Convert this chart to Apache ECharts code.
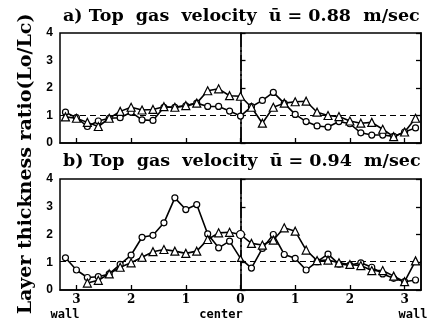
<!DOCTYPE html>
<html><head><meta charset="utf-8">
<script src="https://cdn.jsdelivr.net/npm/echarts@6/dist/echarts.min.js"></script>
<style>html,body{margin:0;padding:0;background:#fff}#c{width:431px;height:320px}</style>
</head><body><div id="c"></div>
<script>
// radial position (dimensionless), from wall (-) through center (0) to wall (+)
const positions = [-3.2,-3.0,-2.8,-2.6,-2.4,-2.2,-2.0,-1.8,-1.6,-1.4,-1.2,-1.0,-0.8,-0.6,-0.4,-0.2,0,0.2,0.4,0.6,0.8,1.0,1.2,1.4,1.6,1.8,2.0,2.2,2.4,2.6,2.8,3.0,3.2];
const xTickValues = [-3,-2,-1,0,1,2,3];
const yTickValues = [0,1,2,3,4];
// a) u = 0.88 m/sec
const aCircle = [1.12,0.92,0.6,0.8,0.9,0.92,1.12,0.84,0.82,1.3,1.3,1.35,1.45,1.33,1.33,1.16,0.98,1.32,1.55,1.84,1.44,1.04,0.78,0.62,0.58,0.78,0.7,0.37,0.29,0.29,0.24,0.4,0.55];
const aTriangle = [0.95,0.9,0.75,0.6,0.9,1.15,1.3,1.2,1.22,1.32,1.3,1.36,1.45,1.9,1.97,1.72,1.7,1.3,0.72,1.3,1.45,1.5,1.52,1.12,1.0,0.96,0.8,0.72,0.75,0.5,0.23,0.4,0.9];
// b) u = 0.94 m/sec
const bCircle = [1.16,0.72,0.45,0.48,0.58,0.92,1.26,1.9,1.97,2.42,3.32,2.9,3.08,2.02,1.52,1.76,1.14,0.79,1.5,2.0,1.28,1.14,0.72,1.02,1.29,0.93,0.9,0.98,0.82,0.58,0.42,0.3,0.36];
const bTriangle = [null,null,0.25,0.35,0.58,0.82,0.98,1.18,1.38,1.46,1.4,1.32,1.4,1.82,2.06,2.08,2.0,1.68,1.62,1.8,2.24,2.12,1.44,1.06,1.08,0.98,0.92,0.88,0.7,0.7,0.5,0.3,1.05];
const refA = 1.0, refB = 1.05;
const titleA = 'a) Top  gas  velocity  ū = 0.88  m/sec';
const titleB = 'b) Top  gas  velocity  ū = 0.94  m/sec';
const yName = 'Layer thickness ratio(Lo/Lc)';
const wallLabel = 'wall', centerLabel = 'center';

const chart = echarts.init(document.getElementById('c'), null, {renderer:'canvas'});
const serif = 'DejaVu Serif';
function pts(ys, swapIdx, swapSym){
  const out = [];
  ys.forEach((y,i)=>{ if(y==null) return; const d={value:[positions[i],y]}; if(i===swapIdx) d.symbol=swapSym; out.push(d); });
  return out;
}
function line(ys, sym, gi, refY, swapIdx, swapSym, withMarks){
  const s = {
    type:'line', xAxisIndex:gi, yAxisIndex:gi*2, data:pts(ys, swapIdx, swapSym),
    symbol:sym, symbolSize: sym==='triangle'?8:6,
    lineStyle:{color:'#000', width:1.6},
    itemStyle:{color:'#fff', borderColor:'#000', borderWidth:1.2},
    z:5, animation:false, silent:true
  };
  if(withMarks){
    s.markLine = {silent:true, symbol:'none', label:{show:false}, animation:false,
      data:[
        {yAxis:refY, lineStyle:{type:[6,4], color:'#000', width:1.2}},
        {xAxis:0, lineStyle:{type:[16,3,2,3], color:'#000', width:1.5}}
      ]};
  }
  return s;
}
function xAxis(gi, showLabel){
  return {type:'value', gridIndex:gi, min:-3.3, max:3.3,
    axisLine:{show:true, onZero:false, lineStyle:{color:'#000', width:1.5}},
    axisTick:{show:true, inside:true, length:5, customValues:xTickValues, lineStyle:{color:'#000', width:1.3}},
    axisLabel:{show:showLabel, customValues:xTickValues, formatter:v=>String(Math.abs(v)), color:'#000',
      fontFamily:serif, fontWeight:'bold', fontSize:12, margin:4},
    splitLine:{show:false}};
}
function yAxis(gi, pos){
  return {type:'value', gridIndex:gi, min:0, max:4, interval:1, position:pos,
    axisLine:{show:true, lineStyle:{color:'#000', width:1.5}},
    axisTick:{show:true, inside:true, length:5, lineStyle:{color:'#000', width:1.3}},
    axisLabel:{show:pos==='left', color:'#000', fontFamily:'Liberation Sans', fontWeight:'bold', fontSize:12, margin:7},
    splitLine:{show:false}};
}
const titleStyle = {fontFamily:serif, fontWeight:'bold', fontSize:17.5, color:'#000'};
const option = {
  backgroundColor:'#fff',
  animation:false,
  title:[
    {text:titleA, left:63, top:7, padding:0, textStyle:titleStyle},
    {text:titleB, left:63, top:152, padding:0, textStyle:titleStyle}
  ],
  grid:[
    {left:60, top:33, width:361, height:110, show:true, borderColor:'#000', borderWidth:1.5, backgroundColor:'transparent'},
    {left:60, top:179, width:361, height:111, show:true, borderColor:'#000', borderWidth:1.5, backgroundColor:'transparent'}
  ],
  xAxis:[xAxis(0,false), xAxis(1,true)],
  yAxis:[yAxis(0,'left'), yAxis(0,'right'), yAxis(1,'left'), yAxis(1,'right')],
  series:[
    line(aCircle,'circle',0,refA,-1,null,true),
    line(aTriangle,'triangle',0,refA,-1,null,false),
    line(bCircle,'circle',1,refB,16,'triangle',true),
    line(bTriangle,'triangle',1,refB,16,'circle',false)
  ],
  graphic:[
    {type:'text', x:26, y:164, rotation:Math.PI/2, style:{text:yName, fill:'#000', font:'bold 19px "DejaVu Serif"', textAlign:'center', textVerticalAlign:'middle'}},
    {type:'text', x:65, y:315, style:{text:wallLabel, fill:'#000', font:'bold 12px "DejaVu Sans Mono"', textAlign:'center', textVerticalAlign:'middle'}},
    {type:'text', x:221, y:315, style:{text:centerLabel, fill:'#000', font:'bold 12px "DejaVu Sans Mono"', textAlign:'center', textVerticalAlign:'middle'}},
    {type:'text', x:413, y:315, style:{text:wallLabel, fill:'#000', font:'bold 12px "DejaVu Sans Mono"', textAlign:'center', textVerticalAlign:'middle'}}
  ]
};
chart.setOption(option);
</script>
</body></html>
